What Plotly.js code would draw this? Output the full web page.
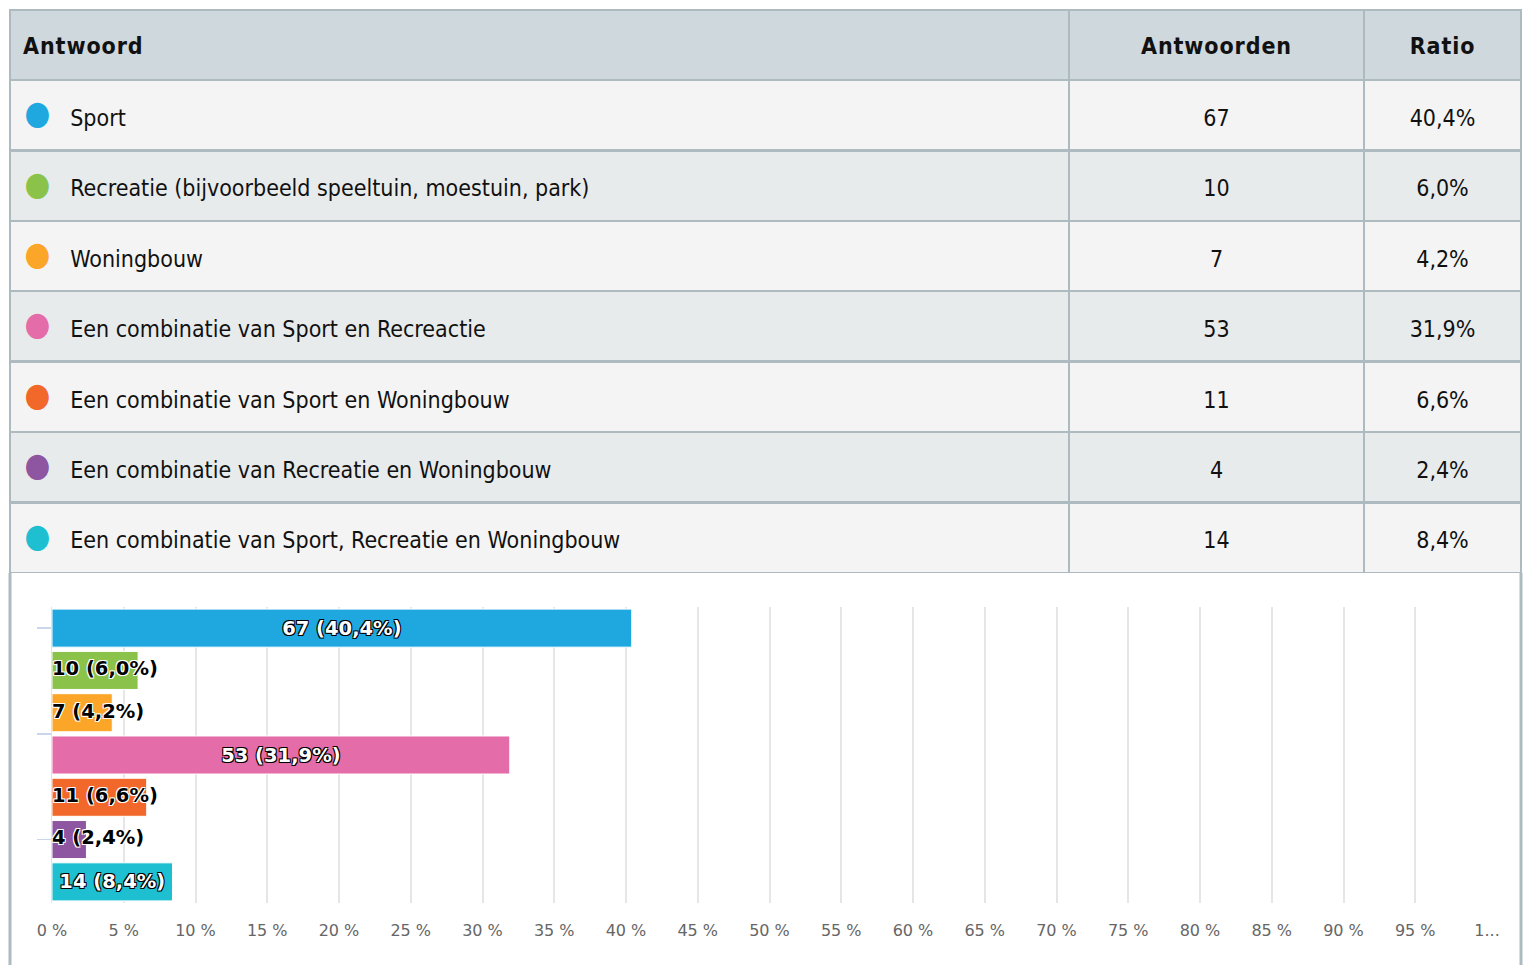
<!DOCTYPE html>
<html>
<head>
<meta charset="utf-8">
<script src="https://cdn.plot.ly/plotly-3.0.1.min.js"></script>
<style>
html,body{margin:0;padding:0;background:#fff;}
#chart{width:1523px;height:965px;}
</style>
</head>
<body>
<div id="chart"></div>
<script>
// ---- data ----
const categories = [
  "Sport",
  "Recreatie (bijvoorbeeld speeltuin, moestuin, park)",
  "Woningbouw",
  "Een combinatie van Sport en Recreactie",
  "Een combinatie van Sport en Woningbouw",
  "Een combinatie van Recreatie en Woningbouw",
  "Een combinatie van Sport, Recreatie en Woningbouw"
];
const counts = [67, 10, 7, 53, 11, 4, 14];
const ratios = [40.4, 6.0, 4.2, 31.9, 6.6, 2.4, 8.4];
const ratioLabels = ["40,4%", "6,0%", "4,2%", "31,9%", "6,6%", "2,4%", "8,4%"];
const colors = ["#1fa8e0", "#8bc34a", "#fba628", "#e46ca8", "#f2672a", "#8e55a0", "#1dbfd1"];
const insideLabel = [true, false, false, true, false, false, true];
const headers = ["Antwoord", "Antwoorden", "Ratio"];
const tickValues = [0,5,10,15,20,25,30,35,40,45,50,55,60,65,70,75,80,85,90,95,100];
const tickLabels = ["0 %","5 %","10 %","15 %","20 %","25 %","30 %","35 %","40 %","45 %","50 %","55 %","60 %","65 %","70 %","75 %","80 %","85 %","90 %","95 %","1..."];

// ---- derived ----
const W = 1523, H = 965;
const TFS = 23;            // visible table text size
const LEAD_C = 17;         // size of the invisible first line in cells (vertical offset)
const LEAD_H = 16.4;       // same for the header
const nb = "\u00a0";
const wrap = (s) => nb + "<br><span style=\"font-size:" + TFS + "px\">" + s + "</span>";
const barText = counts.map((c, i) => c + " (" + ratioLabels[i] + ")");
const col1 = categories.map((c, i) =>
  nb + "<br><span style=\"font-size:" + TFS + "px\">" + nb +
  "<span style=\"color:" + colors[i] + ";font-size:33px;baseline-shift:2px\">●</span>" + nb + nb + nb + c + "</span>");
const col2 = counts.map(v => wrap(String(v)));
const col3 = ratioLabels.map(v => wrap(v));

const tableFont = "DejaVu Sans Condensed, DejaVu Sans, sans-serif";
const rowFills = categories.map((_, i) => i % 2 === 0 ? "#f4f4f4" : "#e8ebec");

const table = {
  type: "table",
  domain: {x: [10 / W, 1521 / W], y: [(H - 573) / H, (H - 10) / H]},
  columnwidth: [1059, 295, 157],
  header: {
    values: headers.map((h, i) => nb + "<br><b><span style=\"font-size:" + TFS + "px;letter-spacing:0.9px\">" + (i === 0 ? "\u2009" : "") + h + "</span></b>"),
    align: ["left", "center", "center"],
    height: 70,
    fill: {color: "#cfd8dc"},
    line: {color: "#adbbc1", width: 2.5},
    font: {family: tableFont, size: LEAD_H, color: "#111"}
  },
  cells: {
    values: [col1, col2, col3],
    align: ["left", "center", "center"],
    height: 70.4,
    fill: {color: [rowFills, rowFills, rowFills]},
    line: {color: "#adbbc1", width: 2.5},
    font: {family: tableFont, size: LEAD_C, color: "#111"}
  }
};

const bars = {
  type: "bar",
  orientation: "h",
  x: ratios,
  y: categories,
  marker: {color: colors, line: {color: "#ffffff", width: 1}},
  text: barText.map((t, i) => insideLabel[i] ? t : ""),
  textposition: "inside",
  insidetextanchor: "middle",
  constraintext: "none",
  textfont: {family: "DejaVu Sans", size: 19.5, color: "#ffffff", weight: "bold",
    shadow: "1px 1px 0 #000, -1px -1px 0 #000, 1px -1px 0 #000, -1px 1px 0 #000"},
  hoverinfo: "skip",
  xaxis: "x", yaxis: "y"
};

const smallIdx = insideLabel.map((v, i) => v ? -1 : i).filter(i => i >= 0);
const outsideLabels = {
  type: "scatter",
  mode: "text",
  x: smallIdx.map(() => 0),
  y: smallIdx.map(i => categories[i]),
  text: smallIdx.map(i => barText[i]),
  textposition: "middle right",
  textfont: {family: "DejaVu Sans", size: 19.5, color: "#000000", weight: "bold",
    shadow: "1px 1px 0 #fff, -1px -1px 0 #fff, 1px -1px 0 #fff, -1px 1px 0 #fff"},
  hoverinfo: "skip",
  cliponaxis: false,
  xaxis: "x", yaxis: "y"
};

const layout = {
  width: W, height: H,
  margin: {l: 0, r: 0, t: 0, b: 0},
  paper_bgcolor: "#ffffff",
  plot_bgcolor: "rgba(0,0,0,0)",
  showlegend: false,
  bargap: 0.1,
  xaxis: {
    domain: [52 / W, 1487 / W],
    range: [0, 100],
    tickvals: tickValues,
    ticktext: tickLabels,
    showgrid: true,
    gridcolor: "#e6e6e6",
    gridwidth: 2,
    zeroline: false,
    showline: false,
    ticks: "",
    ticklabelstandoff: 16,
    tickfont: {family: "DejaVu Sans", size: 16, color: "#666666"},
    automargin: false,
    fixedrange: true
  },
  yaxis: {
    domain: [(H - 903) / H, (H - 607) / H],
    type: "category",
    autorange: "reversed",
    showticklabels: false,
    showgrid: false,
    zeroline: false,
    showline: true,
    linecolor: "#dde3ee",
    linewidth: 1,
    ticks: "outside",
    ticklen: 14,
    tickcolor: "#ccd6eb",
    tickwidth: 1.5,
    tickvals: [0, 2.5, 5],
    automargin: false,
    fixedrange: true
  },
  shapes: [
    {type: "line", xref: "paper", yref: "paper", x0: 10 / W, x1: 10 / W, y0: 0, y1: (H - 573) / H,
     line: {color: "#adbbc1", width: 3}},
    {type: "line", xref: "paper", yref: "paper", x0: 1521 / W, x1: 1521 / W, y0: 0, y1: (H - 573) / H,
     line: {color: "#adbbc1", width: 3}}
  ]
};

Plotly.newPlot("chart", [bars, outsideLabels, table], layout, {displayModeBar: false, staticPlot: true});
</script>
</body>
</html>
